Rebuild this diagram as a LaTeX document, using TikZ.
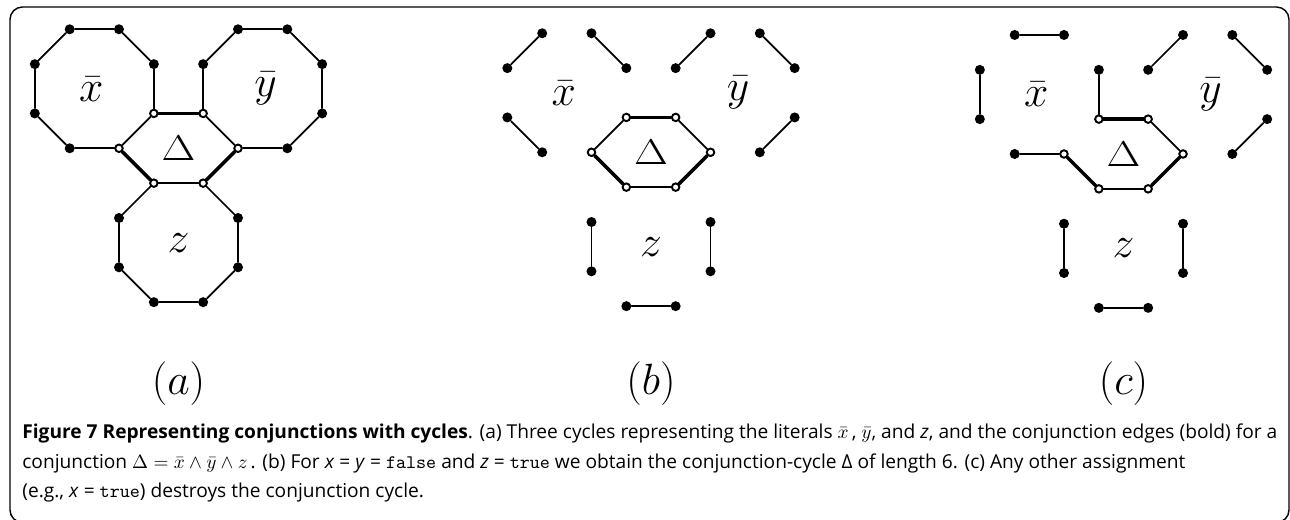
\documentclass[tikz,border=0pt]{standalone}
\usepackage{fontspec}
\usepackage{amsmath,amssymb}
\usepackage{graphicx}
\newfontfamily\capfont{Open Sans}
\usetikzlibrary{positioning, calc}

% vertices of the three literal cycles around one conjunction hexagon
\newcommand{\litnodes}[1]{%
    \begin{scope}[shift={(-1.7071,1.2071)}]
        \foreach \k/\st in {0/dot,1/dot,2/dot,3/dot,4/dot,5/dot,6/hdot,7/hdot}
            \node[\st] (#1-x\k) at ({22.5+45*\k}:1.3066) {};
        \node[lit] (#1-xl) at (-0.06,0) {$\bar{x}$};
    \end{scope}
    \begin{scope}[shift={(1.7071,1.2071)}]
        \foreach \k/\st in {0/dot,1/dot,2/dot,3/dot,4/hdot,5/hdot,6/dot,7/dot}
            \node[\st] (#1-y\k) at ({22.5+45*\k}:1.3066) {};
        \node[lit] (#1-yl) at (0.06,0) {$\bar{y}$};
    \end{scope}
    \begin{scope}[shift={(0,-1.9142)}]
        \foreach \k/\st in {0/dot,1/hdot,2/hdot,3/dot,4/dot,5/dot,6/dot,7/dot}
            \node[\st] (#1-z\k) at ({22.5+45*\k}:1.3066) {};
        \node[lit] (#1-zl) at (0,0) {$z$};
    \end{scope}
    \node[lit] (#1-dl) at (0,0) {\scalebox{1}[0.82]{$\Delta$}};
    % conjunction edges
    \draw[conj] (#1-x7) -- (#1-y4);
    \draw[conj] (#1-y5) -- (#1-z1);
    \draw[conj] (#1-z2) -- (#1-x6);
}

\begin{document}
\begin{tikzpicture}[line cap=round]
    \tikzset{
        dot/.style={circle, fill=black, inner sep=0pt, minimum size=0.2cm},
        hdot/.style={circle, draw=black, fill=white, line width=1.1pt, inner sep=0pt, minimum size=0.15cm},
        cyc/.style={draw, line width=1pt},
        conj/.style={draw, line width=2pt},
        lit/.style={inner sep=0pt, font=\fontsize{23}{27}\selectfont},
        tag/.style={inner sep=0pt, font=\fontsize{24}{28}\selectfont},
        capline/.style={anchor=base west, inner sep=0pt, font=\capfont\fontsize{10.9}{17}\selectfont}
    }
    \useasboundingbox (0,0) rectangle (25.8,10.4);
    \begin{scope}
        \clip (0,0) rectangle (25.8,10.4);
        \draw[line width=0.8pt, rounded corners=0.25cm] (0.2,-0.05) rectangle (25.78,10.26);
    \end{scope}

    % (a) all cycles
    \begin{scope}[shift={(3.57,7.434)}, x=0.986cm, y=0.986cm]
        \litnodes{a}
        \foreach \o in {x,y,z}
            \foreach \k/\j in {0/1,1/2,2/3,3/4,4/5,5/6,6/7,7/0}
                \draw[cyc] (a-\o\k) -- (a-\o\j);
    \end{scope}

    % (b) x = y = false, z = true
    \begin{scope}[shift={(13.02,7.354)}, x=0.986cm, y=0.986cm]
        \litnodes{b}
        \foreach \k/\j in {0/1,2/3,4/5,6/7} {
            \draw[cyc] (b-x\k) -- (b-x\j);
            \draw[cyc] (b-y\k) -- (b-y\j);
        }
        \foreach \k/\j in {1/2,3/4,5/6,7/0}
            \draw[cyc] (b-z\k) -- (b-z\j);
    \end{scope}

    % (c) x = true
    \begin{scope}[shift={(22.47,7.32)}, x=0.986cm, y=0.986cm]
        \litnodes{c}
        \foreach \k/\j in {0/1,2/3,4/5,6/7}
            \draw[cyc] (c-y\k) -- (c-y\j);
        \foreach \k/\j in {1/2,3/4,5/6,7/0} {
            \draw[cyc] (c-x\k) -- (c-x\j);
            \draw[cyc] (c-z\k) -- (c-z\j);
        }
    \end{scope}

    \node[tag] (taga) at (3.57,2.72) {$(a)$};
    \node[tag] (tagb) at (13.02,2.72) {$(b)$};
    \node[tag] (tagc) at (22.47,2.72) {$(c)$};

    \node[capline] (cap1) at (0.44,1.62) {{\bfseries Figure 7 Representing conjunctions with cycles}. (a) Three cycles representing the literals $\bar{x}$\,, $\bar{y}$, and \textit{z}, and the conjunction edges (bold) for a};
    \node[capline] (cap2) at ($(cap1.base west)+(0,-0.59)$) {conjunction $\Delta = \bar{x} \wedge \bar{y} \wedge z$\,. (b) For \textit{x} = \textit{y} = \texttt{false} and \textit{z} = \texttt{true} we obtain the conjunction-cycle Δ of length 6. (c) Any other assignment};
    \node[capline] (cap3) at ($(cap2.base west)+(0,-0.59)$) {(e.g., \textit{x} = \texttt{true}) destroys the conjunction cycle.};
\end{tikzpicture}
\end{document}
